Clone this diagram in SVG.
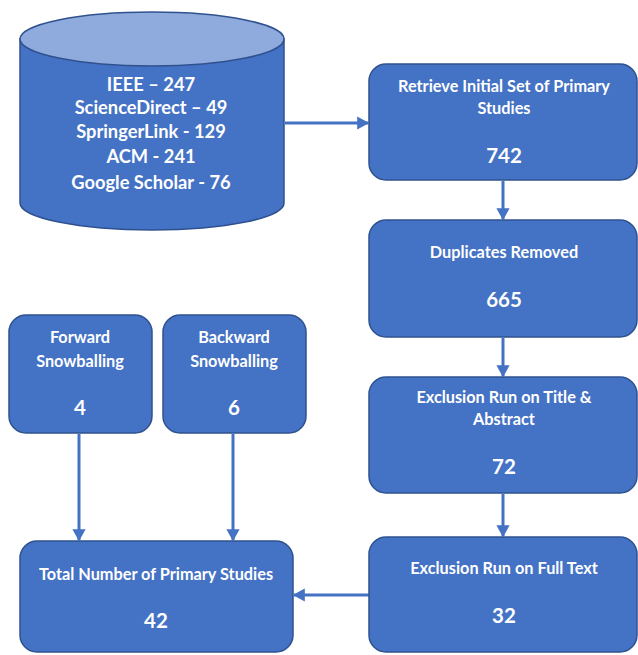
<svg xmlns="http://www.w3.org/2000/svg" width="638" height="655" viewBox="0 0 638 655">
<style>
.box{fill:#4472C4;stroke:#2F528F;stroke-width:1.5}
.t{font-family:Lato,"Liberation Sans",sans-serif;font-weight:bold;fill:#fff;text-anchor:middle;font-size:16.3px}
.n{font-family:Lato,"Liberation Sans",sans-serif;font-weight:bold;fill:#fff;text-anchor:middle;font-size:20.5px}
.c{font-family:Lato,"Liberation Sans",sans-serif;font-weight:bold;fill:#fff;text-anchor:middle;font-size:18.3px}
.e{stroke:#4472C4;stroke-width:3;fill:none;marker-end:url(#ah)}
</style>
<defs>
<marker id="ah" markerWidth="5" markerHeight="5" refX="3.6" refY="2.5" orient="auto" markerUnits="strokeWidth">
<path d="M0,0.3 L4,2.5 L0,4.7 Z" fill="#4472C4"/>
</marker>
</defs>
<rect width="638" height="655" fill="#fff"/>
<g id="connectors">
<line class="e" x1="285" y1="123" x2="368" y2="123"/>
<line class="e" x1="503" y1="181" x2="503" y2="219"/>
<line class="e" x1="503" y1="338" x2="503" y2="376"/>
<line class="e" x1="503" y1="494" x2="503" y2="536"/>
<line class="e" x1="369" y1="595" x2="294" y2="595"/>
<line class="e" x1="79" y1="434" x2="79" y2="540"/>
<line class="e" x1="233" y1="434" x2="233" y2="540"/>
</g>
<g id="databases">
<path class="box" d="M20,39 L20,203 A132,27 0 0 0 284,203 L284,39 Z"/>
<ellipse cx="152" cy="39" rx="132" ry="27" fill="#8FAADC" stroke="#2F528F" stroke-width="1.5"/>
<text class="c" x="151" y="91">IEEE – 247</text>
<text class="c" x="151" y="114">ScienceDirect – 49</text>
<text class="c" x="151" y="138">SpringerLink - 129</text>
<text class="c" x="151" y="163">ACM - 241</text>
<text class="c" x="151" y="189">Google Scholar - 76</text>
</g>
<g id="retrieve">
<rect class="box" x="369" y="64" width="268" height="116" rx="17"/>
<text class="t" x="504" y="92">Retrieve Initial Set of Primary</text>
<text class="t" x="504" y="114">Studies</text>
<text class="n" x="504" y="163">742</text>
</g>
<g id="duplicates">
<rect class="box" x="369" y="220" width="268" height="117" rx="17"/>
<text class="t" x="504" y="258">Duplicates Removed</text>
<text class="n" x="504" y="307">665</text>
</g>
<g id="title-abstract">
<rect class="box" x="369" y="377" width="268" height="116" rx="17"/>
<text class="t" x="504" y="403">Exclusion Run on Title &amp;</text>
<text class="t" x="504" y="425">Abstract</text>
<text class="n" x="504" y="474">72</text>
</g>
<g id="full-text">
<rect class="box" x="369" y="537" width="268" height="115" rx="17"/>
<text class="t" x="504" y="574">Exclusion Run on Full Text</text>
<text class="n" x="504" y="623">32</text>
</g>
<g id="forward">
<rect class="box" x="9" y="315" width="143" height="118" rx="17"/>
<text class="t" x="80" y="343">Forward</text>
<text class="t" x="80" y="367">Snowballing</text>
<text class="n" x="80" y="415">4</text>
</g>
<g id="backward">
<rect class="box" x="163" y="315" width="143" height="118" rx="17"/>
<text class="t" x="234" y="343">Backward</text>
<text class="t" x="234" y="367">Snowballing</text>
<text class="n" x="234" y="415">6</text>
</g>
<g id="total">
<rect class="box" x="20" y="541" width="273" height="111" rx="17"/>
<text class="t" x="156" y="580">Total Number of Primary Studies</text>
<text class="n" x="156" y="628">42</text>
</g>
</svg>
